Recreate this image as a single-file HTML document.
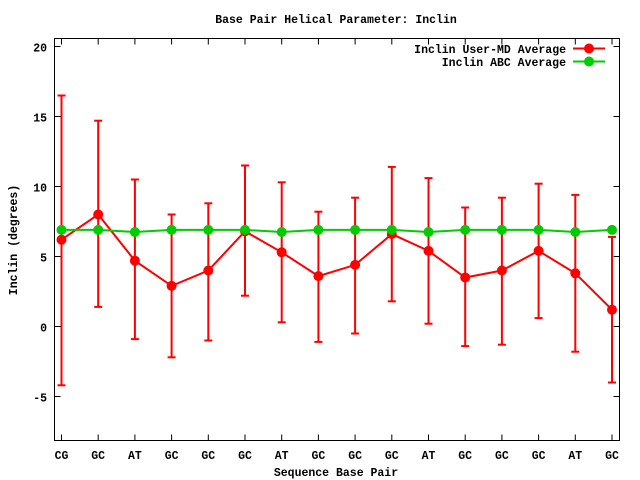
<!DOCTYPE html>
<html><head><meta charset="utf-8"><style>
body{margin:0;background:#fff}
svg{display:block}
text{font-family:"Liberation Mono","DejaVu Sans Mono",monospace;font-size:11.5px;font-weight:bold;fill:#000}
</style></head><body>
<svg id="s" width="640" height="480" xmlns="http://www.w3.org/2000/svg">
<rect x="54.5" y="38.5" width="565" height="402" fill="none" stroke="#000" stroke-width="1"/>
<text x="336" y="23" text-anchor="middle">Base Pair Helical Parameter: Inclin</text>
<text x="336" y="476" text-anchor="middle">Sequence Base Pair</text>
<text transform="translate(17,240) rotate(-90)" text-anchor="middle">Inclin (degrees)</text>
<g id="g"></g>
</svg>
<script>
var g=document.getElementById('g'),h='';
function Y(v){return 326.5-v*14;}
function X(i){return 61.5+i*36.7;}
[20,15,10,5,0,-5].forEach(function(v){var y=Y(v);
h+='<line x1="54.5" x2="60.5" y1="'+y+'" y2="'+y+'" stroke="#000"/><line x1="613.5" x2="619.5" y1="'+y+'" y2="'+y+'" stroke="#000"/>';
h+='<text x="47" y="'+(y+5)+'" text-anchor="end">'+v+'</text>';});
var L=['CG','GC','AT','GC','GC','GC','AT','GC','GC','GC','AT','GC','GC','GC','AT','GC'];
var r=[[6.2,16.5,-4.2],[8.0,14.7,1.4],[4.7,10.5,-0.9],[2.9,8.0,-2.2],[4.0,8.8,-1.0],[6.8,11.5,2.2],[5.3,10.3,0.3],[3.6,8.2,-1.1],[4.4,9.2,-0.5],[6.6,11.4,1.8],[5.4,10.6,0.2],[3.5,8.5,-1.4],[4.0,9.2,-1.3],[5.4,10.2,0.6],[3.8,9.4,-1.8],[1.2,6.4,-4.0]];
L.forEach(function(l,i){var x=X(i);
h+='<line x1="'+x+'" x2="'+x+'" y1="440.5" y2="434.5" stroke="#000"/><line x1="'+x+'" x2="'+x+'" y1="38.5" y2="44.5" stroke="#000"/>';
h+='<text x="'+x+'" y="459" text-anchor="middle">'+l+'</text>';});
var pr='',pg='';
r.forEach(function(d,i){var x=X(i);
h+='<line x1="'+x+'" x2="'+x+'" y1="'+Y(d[1])+'" y2="'+Y(d[2])+'" stroke="#f00" stroke-width="2"/>';
h+='<line x1="'+(x-4)+'" x2="'+(x+4)+'" y1="'+Y(d[1])+'" y2="'+Y(d[1])+'" stroke="#f00" stroke-width="2"/>';
h+='<line x1="'+(x-4)+'" x2="'+(x+4)+'" y1="'+Y(d[2])+'" y2="'+Y(d[2])+'" stroke="#f00" stroke-width="2"/>';
pr+=x+','+Y(d[0])+' ';
var gv=(L[i]=='GC')?6.9:6.75; if(i==0)gv=6.9; pg+=x+','+Y(gv)+' ';});
h+='<polyline points="'+pr+'" fill="none" stroke="#f00" stroke-width="2"/>';
r.forEach(function(d,i){h+='<circle cx="'+X(i)+'" cy="'+Y(d[0])+'" r="5" fill="#f00"/>';});
h+='<polyline points="'+pg+'" fill="none" stroke="#0c0" stroke-width="2"/>';
pg.trim().split(' ').forEach(function(p){var a=p.split(',');h+='<circle cx="'+a[0]+'" cy="'+a[1]+'" r="5" fill="#0c0"/>';});
h+='<text x="566" y="53" text-anchor="end">Inclin User-MD Average</text><line x1="573" x2="605" y1="48.5" y2="48.5" stroke="#f00" stroke-width="2"/><circle cx="589" cy="48.5" r="5" fill="#f00"/>';
h+='<text x="566" y="66" text-anchor="end">Inclin ABC Average</text><line x1="573" x2="605" y1="61.5" y2="61.5" stroke="#0c0" stroke-width="2"/><circle cx="589" cy="61.5" r="5" fill="#0c0"/>';
g.innerHTML=h;
</script>
</body></html>
